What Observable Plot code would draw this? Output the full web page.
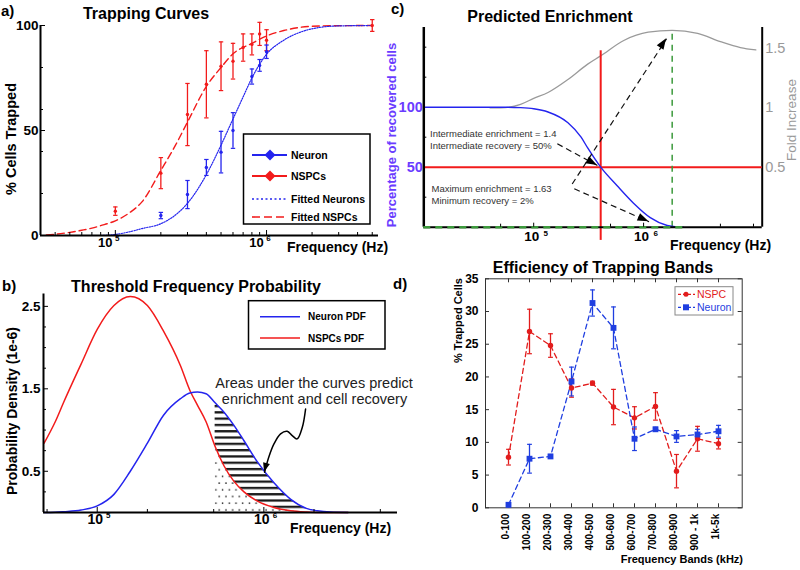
<!DOCTYPE html>
<html>
<head>
<meta charset="utf-8">
<script src="https://cdn.jsdelivr.net/npm/d3@7"></script>
<script src="https://cdn.jsdelivr.net/npm/@observablehq/plot@0.6"></script>
<style>
  html,body{margin:0;padding:0;background:#fff;}
  #fig{position:relative;width:800px;height:570px;overflow:hidden;background:#fff;}
</style>
</head>
<body>
<svg width="0" height="0" style="position:absolute">
  <defs>
    <pattern id="hatchH" patternUnits="userSpaceOnUse" width="10" height="6.3">
      <rect x="0" y="0" width="10" height="2.3" fill="#1a1a1a"></rect>
    </pattern>
    <pattern id="dotsP" patternUnits="userSpaceOnUse" width="6.7" height="13.4">
      <circle cx="1.5" cy="2" r="0.85" fill="#222"></circle>
      <circle cx="4.85" cy="8.7" r="0.85" fill="#222"></circle>
    </pattern>
  </defs>
</svg>
<div id="fig"></div>
<script>
const FONT = '"Liberation Sans", Arial, Helvetica, sans-serif';

// ---------------- Panel a: Trapping Curves ----------------
const nspcFreq = [1e5, 2e5, 3e5, 4e5, 5e5, 6e5, 7e5, 8e5, 9e5, 1e6, 5e6];
const nspcTrapped = [11.6, 29.7, 57.6, 72, 80.6, 83, 89.5, 91, 96, 93, 100];
const nspcTrappedErr = [2, 7.4, 14.8, 16, 11.6, 8.5, 6.5, 5, 5.5, 5, 2.8];
const neuronFreq = [2e5, 3e5, 4e5, 5e5, 6e5, 8e5, 9e5, 1e6];
const neuronTrapped = [9.5, 19.5, 32.4, 39.7, 50, 75.7, 81, 87.5];
const neuronTrappedErr = [1.5, 6.7, 3.8, 9.9, 8.5, 3.6, 2.8, 3.2];
const fitNspcFreq = [3.5e4, 4e4, 5e4, 6e4, 7e4, 8e4, 1e5, 1.25e5, 1.5e5, 2e5, 2.5e5, 3e5, 4e5, 5e5, 6e5, 8e5, 1e6, 1.3e6, 1.7e6, 2.3e6, 5e6];
const fitNspcPct = [0.3, 0.6, 1.5, 2.5, 3.5, 4.7, 7, 11, 16, 31, 43, 54, 71, 80, 86.5, 91.5, 95, 97.6, 99.2, 99.8, 100];
const fitNeuronFreq = [8e4, 1e5, 1.25e5, 1.5e5, 2e5, 2.5e5, 3e5, 4e5, 5e5, 6e5, 7e5, 8e5, 1e6, 1.3e6, 1.7e6, 2.3e6, 3e6, 5e6];
const fitNeuronPct = [0, 0.5, 1.8, 3.3, 5.6, 9.8, 15.3, 29, 43, 55.5, 66, 75, 86.3, 93, 97, 99.2, 99.8, 100];
const aYTicks = [0, 50, 100];
const aYMinor = [20, 40, 60, 80];
const aXMajor = [1e5, 1e6];
const aXExp = ["5", "6"];
const aXMinor = [4e4, 5e4, 6e4, 7e4, 8e4, 9e4, 2e5, 3e5, 4e5, 5e5, 6e5, 7e5, 8e5, 9e5, 2e6, 3e6, 4e6, 5e6];

// ---------------- Panel b: Threshold Frequency Probability ----------------
const pdfFreq = [4.8e4, 5.6e4, 6.3e4, 8e4, 1e5, 1.26e5, 1.58e5, 2e5, 2.5e5, 3.16e5, 3.6e5, 4e5, 4.5e5, 5.1e5, 5.75e5, 6.6e5, 7.6e5, 9.1e5, 1.15e6, 1.45e6, 1.8e6, 2.1e6, 2.5e6, 3.2e6];
const pdfNeuron = [0, 0.003, 0.01, 0.03, 0.08, 0.22, 0.5, 0.84, 1.18, 1.38, 1.45, 1.46, 1.44, 1.33, 1.22, 1.06, 0.87, 0.62, 0.36, 0.16, 0.05, 0.02, 0.005, 0];
const pdfNspc = [0.84, 1.1, 1.34, 1.8, 2.22, 2.51, 2.62, 2.51, 2.2, 1.78, 1.48, 1.3, 1.1, 0.8, 0.57, 0.38, 0.25, 0.14, 0.06, 0.02, 0.005, 0, 0, 0];
const shadeStartFreq = 5.1e5;
const noteArrowFreq = [1.78e6, 1.7e6, 1.585e6, 1.48e6, 1.38e6, 1.26e6, 1.15e6, 1.07e6, 1.01e6];
const noteArrowDensity = [1.254, 1.03, 0.893, 0.933, 0.985, 0.954, 0.832, 0.67, 0.488];
const bYTicks = [0.5, 1.5, 2.5];
const bYMinor = [0.25, 0.75, 1, 1.25, 1.75, 2, 2.25];
const bXMajor = [1e5, 1e6];
const bXExp = ["5", "6"];
const bXMinor = [5e4, 2e5, 5e5, 2e6, 5e6];

// ---------------- Panel c: Predicted Enrichment ----------------
const recFreq = [1e4, 5e4, 7.6e4, 1e5, 1.35e5, 2.05e5, 2.7e5, 3.1e5, 4.07e5, 5.75e5, 8.1e5, 1.15e6, 1.64e6, 2e6, 2.3e6];
const recPct = [100, 100, 99.6, 98.7, 96, 87, 75, 66, 50, 34.5, 20, 8, 1.4, 0.2, 0];
const foldFreq = [4e4, 5e4, 7.6e4, 1e5, 1.35e5, 2.05e5, 3.1e5, 4.07e5, 6.6e5, 1.1e6, 1.82e6, 3.1e6, 5e6, 7.6e6, 1.05e7];
const foldIncrease = [1, 1, 1.03, 1.08, 1.13, 1.24, 1.37, 1.44, 1.57, 1.64, 1.655, 1.63, 1.56, 1.51, 1.49];
const cutoffFreq = 4.07e5;
const cutoffRecovery = 50;
const optimumFreq = 1.82e6;
const arrowStartFreq = [1.64e5, 2.24e5, 2.34e5];
const arrowStartPct = [69.5, 36, 32];
const arrowEndFreq = [3.8e5, 1.62e6, 1.12e6];
const arrowEndPct = [51.4, 157, 4.5];
const cLeftTicks = [50, 100];
const cLeftMinor = [25, 75, 125, 150];
const cRightTicks = [0.5, 1, 1.5];
const cXMajor = [1e5, 1e6];
const cXExp = ["5", "6"];
const cXMinor = [5e4, 5e5, 5e6, 1e7];

// ---------------- Panel d: Efficiency of Trapping Bands ----------------
const bands = ["0-100", "100-200", "200-300", "300-400", "400-500", "500-600", "600-700", "700-800", "800-900", "900 - 1k", "1k-5k"];
const nspcBand = [7.74, 26.95, 24.8, 18.3, 19.05, 15.4, 13.75, 15.5, 5.6, 10.55, 9.8];
const nspcBandErr = [1.2, 3.4, 1.8, 1.4, 0.3, 2.7, 1.7, 2.1, 2.55, 1.9, 0.8];
const neuronBand = [0.46, 7.5, 7.85, 19.3, 31.3, 27.5, 10.55, 12.0, 10.9, 11.2, 11.7];
const neuronBandErr = [0.3, 2.2, 0.3, 2.2, 2.0, 3.2, 1.8, 0.3, 0.9, 0.8, 0.9];
const dYTicks = [0, 5, 10, 15, 20, 25, 30, 35];

// ---------------- helpers ----------------
const RED = "#f21b1b", BLUE = "#2424ee", GREEN = "#3c9a3c", PURPLE = "#6a3cff";
const base = {background: "transparent", overflow: "visible", fontFamily: FONT, maxWidth: "none"};
const fig = document.getElementById("fig");
function place(el, left, top) {
  el.style.position = "absolute"; el.style.left = left + "px"; el.style.top = top + "px";
  fig.appendChild(el);
}
const capSymbol = {draw(ctx, size) { const r = Math.sqrt(size / Math.PI); ctx.moveTo(-r, 0); ctx.lineTo(r, 0); }};
function arrowHeads(from, to, len, wid) {
  return (index, scales) => {
    const g = d3.create("svg:g");
    from.forEach((p, i) => {
      const q = to[i];
      const x1 = scales.x(p[0]), y1 = scales.y(p[1]), x2 = scales.x(q[0]), y2 = scales.y(q[1]);
      const a = Math.atan2(y2 - y1, x2 - x1);
      const bx = x2 - len * Math.cos(a), by = y2 - len * Math.sin(a);
      const px = -Math.sin(a) * wid / 2, py = Math.cos(a) * wid / 2;
      g.append("path").attr("d", `M${x2},${y2}L${bx + px},${by + py}L${bx - px},${by - py}Z`).attr("fill", "#000");
    });
    return g.node();
  };
}
const zip = (xs, ys, es) => xs.map((x, i) => ({x, y: ys[i], e: es ? es[i] : 0}));
function errMarks(data, color, r, xk) {
  return [
    Plot.ruleX(data, {x: xk, y1: d => d.y - d.e, y2: d => d.y + d.e, stroke: color, strokeWidth: 1.3}),
    Plot.dot(data, {x: xk, y: d => d.y - d.e, symbol: capSymbol, r, stroke: color, strokeWidth: 1.2, fill: "none"}),
    Plot.dot(data, {x: xk, y: d => d.y + d.e, symbol: capSymbol, r, stroke: color, strokeWidth: 1.2, fill: "none"})
  ];
}

// ---------------- Panel a ----------------
const aNspc = zip(nspcFreq, nspcTrapped, nspcTrappedErr);
const aNeuron = zip(neuronFreq, neuronTrapped, neuronTrappedErr);
const aFW = 338, aFH = 210;
const plotA = Plot.plot({
  width: 400, height: 260, marginLeft: 40, marginRight: 22, marginTop: 25, marginBottom: 25,
  x: {type: "log", domain: [3.2e4, 5.5e6], axis: null},
  y: {domain: [0, 100], axis: null},
  style: base,
  marks: [
    Plot.line(zip(fitNspcFreq, fitNspcPct), {x: "x", y: "y", stroke: RED, strokeWidth: 1.4, strokeDasharray: "7,4", curve: "monotone-x"}),
    Plot.line(zip(fitNeuronFreq, fitNeuronPct), {x: "x", y: "y", stroke: BLUE, strokeWidth: 1.2, strokeDasharray: "1.3,1.3", curve: "monotone-x"}),
    ...errMarks(aNspc, RED, 2.2, "x"),
    ...errMarks(aNeuron, BLUE, 2.2, "x"),
    Plot.dot(aNspc, {x: "x", y: "y", r: 1.7, fill: RED}),
    Plot.dot(aNeuron, {x: "x", y: "y", r: 1.7, fill: BLUE}),
    Plot.ruleY([0], {stroke: "#000", strokeWidth: 2}),
    Plot.ruleX([3.2e4], {stroke: "#000", strokeWidth: 2}),
    Plot.tickY(aYMinor, {y: d => d, insetRight: aFW - 3, stroke: "#000"}),
    Plot.tickY(aYTicks, {y: d => d, insetRight: aFW - 5, stroke: "#000"}),
    Plot.tickX(aXMinor, {x: d => d, insetTop: aFH - 3, stroke: "#000"}),
    Plot.tickX(aXMajor, {x: d => d, insetTop: aFH - 5, stroke: "#000"}),
    Plot.text(aYTicks, {y: d => d, frameAnchor: "left", dx: -2, textAnchor: "end", text: d => String(d), fontWeight: "bold", fontSize: 13.5}),
    Plot.text(aXMajor, {x: d => d, frameAnchor: "bottom", dx: -10, dy: 11, text: () => "10", fontWeight: "bold", fontSize: 13}),
    Plot.text(aXMajor, {x: d => d, frameAnchor: "bottom", dx: 2, dy: 5, text: (d, i) => aXExp[i], fontWeight: "bold", fontSize: 8})
  ]
});
place(plotA, 0, 0);

// ---------------- Panel b ----------------
const bRows = pdfFreq.map((x, i) => ({x, u: pdfNeuron[i], n: pdfNspc[i]}));
const bShade = bRows.filter(d => d.x >= shadeStartFreq);
const bNote = noteArrowFreq.map((x, i) => ({x, y: noteArrowDensity[i]}));
const bFW = 354, bFH = 218.5;
const nA = noteArrowFreq.length;
const plotB = Plot.plot({
  width: 400, height: 310, marginLeft: 43, marginRight: 3, marginTop: 33.5, marginBottom: 58,
  x: {type: "log", domain: [4.76e4, 6.34e6], axis: null},
  y: {domain: [0, 2.65], axis: null},
  style: base,
  marks: [
    Plot.areaY(bShade, {x: "x", y1: "n", y2: "u", fill: "url(#hatchH)", curve: "monotone-x"}),
    Plot.areaY(bShade, {x: "x", y1: 0, y2: "n", fill: "url(#dotsP)", curve: "monotone-x"}),
    Plot.line(bRows, {x: "x", y: "n", stroke: RED, strokeWidth: 1.5, curve: "monotone-x"}),
    Plot.line(bRows, {x: "x", y: "u", stroke: BLUE, strokeWidth: 1.5, curve: "monotone-x"}),
    Plot.line(bNote, {x: "x", y: "y", stroke: "#000", strokeWidth: 1.5, curve: "catmull-rom"}),
    arrowHeads([[noteArrowFreq[nA - 2], noteArrowDensity[nA - 2]]], [[noteArrowFreq[nA - 1], noteArrowDensity[nA - 1]]], 9, 7),
    Plot.ruleY([0], {stroke: "#000", strokeWidth: 2}),
    Plot.ruleX([4.76e4], {stroke: "#000", strokeWidth: 2}),
    Plot.tickY(bYMinor, {y: d => d, insetRight: bFW - 3, stroke: "#000"}),
    Plot.tickY(bYTicks, {y: d => d, insetRight: bFW - 5, stroke: "#000"}),
    Plot.tickX(bXMinor, {x: d => d, insetTop: bFH - 3, stroke: "#000"}),
    Plot.tickX(bXMajor, {x: d => d, insetTop: bFH - 5, stroke: "#000"}),
    Plot.text(bYTicks, {y: d => d, frameAnchor: "left", dx: -3, textAnchor: "end", text: d => String(d), fontWeight: "bold", fontSize: 13.5}),
    Plot.text(bXMajor, {x: d => d, frameAnchor: "bottom", dx: -2, dy: 11, text: () => "10", fontWeight: "bold", fontSize: 14}),
    Plot.text(bXMajor, {x: d => d, frameAnchor: "bottom", dx: 11, dy: 5, text: (d, i) => bXExp[i], fontWeight: "bold", fontSize: 8})
  ]
});
place(plotB, 0, 260);

// ---------------- Panel c ----------------
const cFW = 338.4, cFH = 199.7;
const cDims = {width: 400, height: 260, marginLeft: 23.3, marginRight: 38.3, marginTop: 27, marginBottom: 33.3};
const plotCfold = Plot.plot({
  ...cDims,
  x: {type: "log", domain: [1e4, 1.2e7], axis: null},
  y: {domain: [-0.01, 1.68], axis: null},
  style: base,
  marks: [
    Plot.line(zip(foldFreq, foldIncrease), {x: "x", y: "y", stroke: "#9a9a9a", strokeWidth: 1.3, curve: "monotone-x"}),
    Plot.ruleX([1.2e7], {stroke: "#000", strokeWidth: 2}),
    Plot.text(cRightTicks, {y: d => d, frameAnchor: "right", dx: 3, textAnchor: "start", text: d => String(d), fill: "#999", fontSize: 14.5})
  ]
});
place(plotCfold, 400, 0);
const cArrows = arrowStartFreq.map((x, i) => ({x1: x, y1: arrowStartPct[i], x2: arrowEndFreq[i], y2: arrowEndPct[i]}));
const plotCrec = Plot.plot({
  ...cDims,
  x: {type: "log", domain: [1e4, 1.2e7], axis: null},
  y: {domain: [0, 166.4], axis: null},
  style: base,
  marks: [
    Plot.ruleY([cutoffRecovery], {stroke: RED, strokeWidth: 2}),
    Plot.ruleX([{x: cutoffFreq, y1: -11, y2: 147}], {x: "x", y1: "y1", y2: "y2", stroke: RED, strokeWidth: 2}),
    Plot.ruleX([{x: optimumFreq, y1: 0, y2: 163}], {x: "x", y1: "y1", y2: "y2", stroke: GREEN, strokeWidth: 1.5, strokeDasharray: "6,5"}),
    Plot.line(zip(recFreq, recPct), {x: "x", y: "y", stroke: BLUE, strokeWidth: 1.4, curve: "monotone-x"}),
    Plot.ruleY([0], {stroke: "#000", strokeWidth: 2}),
    Plot.ruleX([1e4], {stroke: "#000", strokeWidth: 2.5}),
    Plot.ruleY([{y: 0, x1: 1e4, x2: 2.3e6}], {y: "y", x1: "x1", x2: "x2", stroke: GREEN, strokeWidth: 2.5, strokeDasharray: "7,5"}),
    Plot.link(cArrows, {x1: "x1", y1: "y1", x2: "x2", y2: "y2", stroke: "#111", strokeDasharray: "6,4", strokeWidth: 1.2}),
    arrowHeads(cArrows.map(d => [d.x1, d.y1]), cArrows.map(d => [d.x2, d.y2]), 11, 8),
    Plot.tickY(cLeftMinor, {y: d => d, insetRight: cFW - 3, stroke: "#000"}),
    Plot.tickX(cXMinor, {x: d => d, insetTop: cFH - 3, stroke: "#000"}),
    Plot.tickX(cXMajor, {x: d => d, insetTop: cFH - 4, stroke: "#000"}),
    Plot.text(cLeftTicks, {y: d => d, frameAnchor: "left", dx: -1, textAnchor: "end", text: d => String(d), fill: PURPLE, fontWeight: "bold", fontSize: 14.5}),
    Plot.text(cXMajor, {x: d => d, frameAnchor: "bottom", dx: -2, dy: 14, text: () => "10", fontWeight: "bold", fontSize: 13.5}),
    Plot.text(cXMajor, {x: d => d, frameAnchor: "bottom", dx: 12, dy: 9, text: (d, i) => cXExp[i], fontWeight: "bold", fontSize: 8})
  ]
});
place(plotCrec, 400, 0);

// ---------------- Panel d ----------------
const dN = bands.map((b, i) => ({b, y: nspcBand[i], e: nspcBandErr[i]}));
const dU = bands.map((b, i) => ({b, y: neuronBand[i], e: neuronBandErr[i]}));
const dFW = 256.7, dFH = 229;
const DRED = "#e21c1c", DBLUE = "#1f3ee0";
const plotD = Plot.plot({
  width: 400, height: 310, marginLeft: 85, marginRight: 58.3, marginTop: 18.3, marginBottom: 62.7,
  x: {type: "point", domain: bands, padding: 1, axis: null},
  y: {domain: [0, 35], axis: null},
  style: base,
  marks: [
    Plot.frame({stroke: "#333", strokeWidth: 1}),
    Plot.tickY(dYTicks, {y: d => d, insetRight: dFW - 4, stroke: "#333"}),
    Plot.tickY(dYTicks, {y: d => d, insetLeft: dFW - 4, stroke: "#333"}),
    Plot.tickX(bands, {x: d => d, insetTop: dFH - 4, stroke: "#333"}),
    Plot.tickX(bands, {x: d => d, insetBottom: dFH - 4, stroke: "#333"}),
    Plot.line(dN, {x: "b", y: "y", stroke: DRED, strokeWidth: 1.3, strokeDasharray: "5,3.5"}),
    Plot.line(dU, {x: "b", y: "y", stroke: DBLUE, strokeWidth: 1.3, strokeDasharray: "5,3.5"}),
    ...errMarks(dN, DRED, 2.4, "b"),
    ...errMarks(dU, DBLUE, 2.4, "b"),
    Plot.dot(dN, {x: "b", y: "y", r: 2.7, fill: DRED}),
    Plot.dot(dU, {x: "b", y: "y", r: 3.3, symbol: "square", fill: DBLUE}),
    Plot.text(dYTicks, {y: d => d, frameAnchor: "left", dx: -7, textAnchor: "end", text: d => String(d), fontWeight: "bold", fontSize: 12}),
    Plot.text(bands, {x: d => d, frameAnchor: "bottom", dy: 6, rotate: -90, textAnchor: "end", text: d => d, fontWeight: "bold", fontSize: 10})
  ]
});
place(plotD, 400, 260);

// ---------------- titles, axis labels, legends, notes ----------------
const ov = d3.select(fig).append("svg").attr("width", 800).attr("height", 570)
  .style("position", "absolute").style("left", "0px").style("top", "0px").style("overflow", "visible")
  .attr("font-family", FONT);
function label(x, y, s, o = {}) {
  const t = ov.append("text").attr("x", x).attr("y", y).text(s)
    .attr("font-size", o.size || 14).attr("font-weight", o.weight || "normal")
    .attr("fill", o.fill || "#000").attr("text-anchor", o.anchor || "start");
  if (o.rotate) t.attr("transform", `rotate(${o.rotate},${x},${y})`);
  return t;
}
// panel a
label(1, 16, "a)", {size: 15, weight: "bold"});
label(146, 18.5, "Trapping Curves", {size: 16, weight: "bold", anchor: "middle"});
label(16, 139, "% Cells Trapped", {size: 14.5, weight: "bold", anchor: "middle", rotate: -90});
label(287, 251.5, "Frequency (Hz)", {size: 14, weight: "bold"});
// panel c
label(391, 14, "c)", {size: 15, weight: "bold"});
label(550, 21.5, "Predicted Enrichment", {size: 16, weight: "bold", anchor: "middle"});
label(395.5, 135, "Percentage of recovered cells", {size: 13, weight: "bold", anchor: "middle", rotate: -90, fill: PURPLE});
label(796, 120, "Fold Increase", {size: 13.5, anchor: "middle", rotate: -90, fill: "#9a9a9a"});
label(670, 250, "Frequency (Hz)", {size: 14, weight: "bold"});
label(430, 136.5, "Intermediate enrichment = 1.4", {size: 9.5, fill: "#333"});
label(430, 148.5, "Intermediate recovery = 50%", {size: 9.5, fill: "#333"});
label(431.5, 191.5, "Maximum enrichment = 1.63", {size: 9.5, fill: "#333"});
label(431.5, 203.5, "Minimum recovery = 2%", {size: 9.5, fill: "#333"});
// panel b
label(2, 291, "b)", {size: 15, weight: "bold"});
label(196, 291.5, "Threshold Frequency Probability", {size: 16, weight: "bold", anchor: "middle"});
label(17, 411, "Probability Density (1e-6)", {size: 14, weight: "bold", anchor: "middle", rotate: -90});
label(290, 533, "Frequency (Hz)", {size: 14, weight: "bold"});
label(314, 388, "Areas under the curves predict", {size: 14.5, anchor: "middle", fill: "#222"});
label(314.5, 403.5, "enrichment and cell recovery", {size: 14.5, anchor: "middle", fill: "#222"});
// panel d
label(393, 289, "d)", {size: 15, weight: "bold"});
label(603, 273.3, "Efficiency of Trapping Bands", {size: 16, weight: "bold", anchor: "middle"});
label(462, 320.5, "% Trapped Cells", {size: 11, weight: "bold", anchor: "middle", rotate: -90});
label(743, 563, "Frequency Bands (kHz)", {size: 11, weight: "bold", anchor: "end"});

// legend a
ov.append("rect").attr("x", 243.5).attr("y", 134).attr("width", 126.5).attr("height", 90).attr("fill", "#fff").attr("stroke", "#000").attr("stroke-width", 1.5);
function diamond(cx, cy, s, c) { ov.append("path").attr("d", `M${cx},${cy - s}L${cx + s},${cy}L${cx},${cy + s}L${cx - s},${cy}Z`).attr("fill", c); }
[[155, BLUE, "Neuron"], [176, RED, "NSPCs"]].forEach(([y, c, t]) => {
  ov.append("line").attr("x1", 252).attr("x2", 287).attr("y1", y).attr("y2", y).attr("stroke", c).attr("stroke-width", 2);
  diamond(270, y, 5.5, c);
  label(291, y + 4, t, {size: 10.5, weight: "bold"});
});
ov.append("line").attr("x1", 252).attr("x2", 287).attr("y1", 199).attr("y2", 199).attr("stroke", BLUE).attr("stroke-width", 1.6).attr("stroke-dasharray", "2,2.5");
label(291, 203, "Fitted Neurons", {size: 10.5, weight: "bold"});
ov.append("line").attr("x1", 252).attr("x2", 287).attr("y1", 217).attr("y2", 217).attr("stroke", RED).attr("stroke-width", 1.6).attr("stroke-dasharray", "8,4");
label(291, 221, "Fitted NSPCs", {size: 10.5, weight: "bold"});

// legend b
ov.append("rect").attr("x", 248.5).attr("y", 300.7).attr("width", 136.5).attr("height", 48.3).attr("fill", "#fff").attr("stroke", "#000").attr("stroke-width", 1.5);
[[316.7, BLUE, "Neuron PDF"], [338, RED, "NSPCs PDF"]].forEach(([y, c, t]) => {
  ov.append("line").attr("x1", 260).attr("x2", 300).attr("y1", y).attr("y2", y).attr("stroke", c).attr("stroke-width", 1.5);
  label(308, y + 3.5, t, {size: 10, weight: "bold"});
});

// legend d
ov.append("rect").attr("x", 675).attr("y", 286.7).attr("width", 58).attr("height", 28.3).attr("fill", "#fff").attr("stroke", "#888").attr("stroke-width", 1);
ov.append("line").attr("x1", 678).attr("x2", 695).attr("y1", 294.3).attr("y2", 294.3).attr("stroke", DRED).attr("stroke-width", 1.2).attr("stroke-dasharray", "3,2");
ov.append("circle").attr("cx", 686).attr("cy", 294.3).attr("r", 2.5).attr("fill", DRED);
label(697, 298, "NSPC", {size: 10.5, fill: DRED});
ov.append("line").attr("x1", 678).attr("x2", 695).attr("y1", 307.3).attr("y2", 307.3).attr("stroke", DBLUE).attr("stroke-width", 1.2).attr("stroke-dasharray", "3,2");
ov.append("rect").attr("x", 683).attr("y", 304.3).attr("width", 6).attr("height", 6).attr("fill", DBLUE);
label(697, 311, "Neuron", {size: 10.5, fill: DBLUE});
</script>
</body>
</html>
